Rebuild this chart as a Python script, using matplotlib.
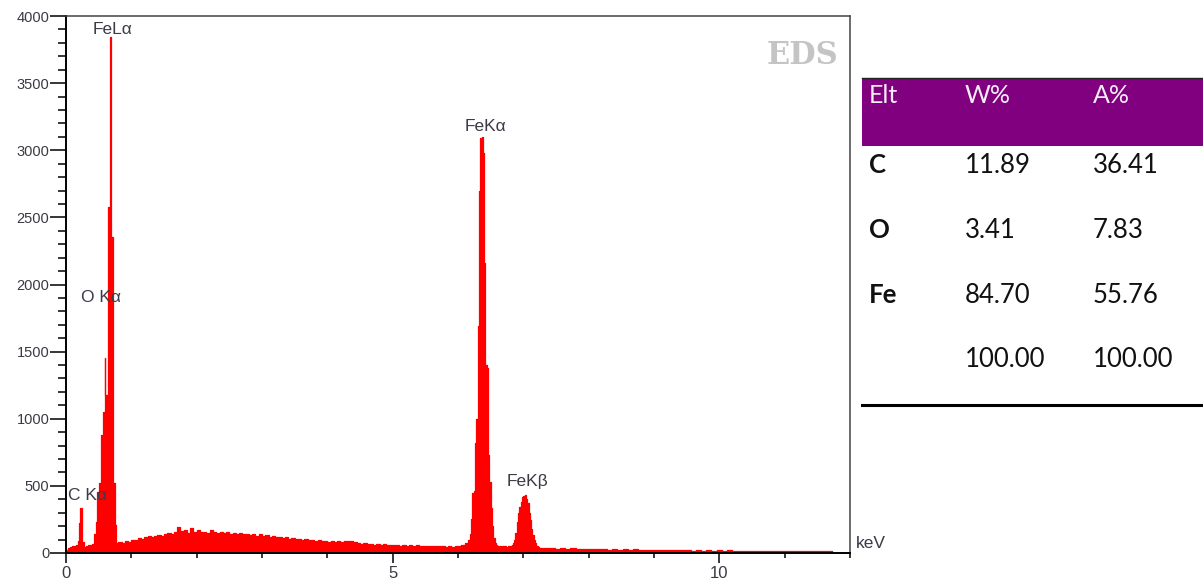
import matplotlib.pyplot as plt
import matplotlib.patches as mpatches
import matplotlib.lines as mlines
import numpy as np

# ---- spectrum data (keV, counts) ----
# low-energy region: C K, O K and Fe L lines (bin start energies)
low_kev = [0.00, 0.03, 0.06, 0.09, 0.12, 0.15, 0.18, 0.20, 0.22, 0.25, 0.28,
           0.31, 0.34, 0.37, 0.40, 0.43, 0.46, 0.48, 0.50, 0.53, 0.57, 0.59,
           0.60, 0.65, 0.67, 0.685, 0.72, 0.75, 0.77]
low_counts = [25, 35, 42, 50, 55, 62, 90, 220, 335, 80, 48,
              52, 58, 62, 70, 140, 230, 455, 520, 880, 1050, 1450,
              1180, 2580, 3840, 2355, 520, 210, 75]

# bremsstrahlung background between Fe L and Fe K (0.05 keV channels from 0.80)
cont_start = 0.80
cont_step = 0.05
cont_counts = [80, 72, 90, 85, 100, 95, 110, 105, 120, 125, 118, 130, 135, 128,
               140, 150, 145, 160, 195, 165, 170, 150, 185, 160, 175, 155, 160,
               150, 170, 155, 150, 160, 148, 155, 145, 150, 140, 148, 138, 145,
               135, 142, 130, 138, 128, 132, 120, 126, 118, 122, 112, 118, 108,
               112, 102, 108, 98, 104, 95, 100, 90, 96, 88, 92, 85, 88, 80, 86,
               82, 90, 86, 92, 80, 76, 68, 72, 66, 70, 62, 66, 60, 64, 58, 62,
               56, 60, 55, 58, 54, 57, 52, 56, 52, 55, 50, 54, 50, 53, 49, 52,
               48, 51, 48, 52, 55, 60, 75]

# Fe K alpha / K beta (0.02 keV channels from 6.16)
fek_start = 6.16
fek_step = 0.02
fek_counts = [100, 140, 250, 450, 460, 820, 1000, 1690, 2700, 3090, 3100, 2980,
              2160, 1400, 1380, 730, 530, 335, 200, 110, 75, 60, 55, 50, 52, 48,
              50, 45, 50, 47, 52, 50, 55, 60, 75, 100, 150, 230, 300, 345, 380,
              420, 425, 430, 400, 370, 300, 245, 180, 135, 100, 75, 55, 45]

# high-energy tail (0.08 keV channels from 7.24)
tail_start = 7.24
tail_step = 0.08
tail_counts = [40, 36, 38, 33, 36, 30, 34, 29, 32, 28, 31, 27, 30, 26, 29, 25,
               28, 24, 27, 23, 26, 22, 25, 21, 24, 20, 23, 19, 22, 18, 21, 18,
               20, 17, 20, 16, 19, 16, 18, 15, 18, 15, 17, 14, 17, 14, 16, 13,
               16, 13, 15, 12, 15, 12, 14, 12]

# peak labels
peak_names = ['FeL\u03b1', 'O K\u03b1', 'C K\u03b1', 'FeK\u03b1', 'FeK\u03b2']
peak_x = [0.71, 0.54, 0.33, 6.42, 7.07]
peak_y = [3900, 1905, 425, 3180, 535]

# quantification table
headers = ['Elt', 'W%', 'A%']
elements = ['C', 'O', 'Fe', '']
weight_pct = ['11.89', '3.41', '84.70', '100.00']
atomic_pct = ['36.41', '7.83', '55.76', '100.00']

# ---- assemble channels ----
cont_kev = cont_start + cont_step * np.arange(len(cont_counts))
fek_kev = fek_start + fek_step * np.arange(len(fek_counts))
tail_kev = tail_start + tail_step * np.arange(len(tail_counts))
kev = np.concatenate([low_kev, cont_kev, fek_kev, tail_kev])
counts = np.concatenate([low_counts, cont_counts, fek_counts, tail_counts])
edges = np.append(kev, tail_kev[-1] + tail_step)
counts_post = np.append(counts, counts[-1])

W, H = 1203, 583
fig = plt.figure(figsize=(W / 100, H / 100), dpi=100)
ax = fig.add_axes([66 / W, 1 - 553 / H, (850 - 66) / W, (553 - 16) / H])

ax.fill_between(edges, counts_post, step='post', color='#ff0000',
                linewidth=0, antialiased=False)
ax.step(edges, counts_post, where='post', color='#ff0000', lw=0.9)

ax.set_xlim(0, 12)
ax.set_ylim(0, 4000)

tick_col = '#3a3a44'
ax.set_yticks(np.arange(0, 4001, 500))
ax.set_yticks(np.arange(0, 4001, 100), minor=True)
ax.set_xticks([0, 5, 10])
ax.set_xticks(np.arange(0, 13, 1), minor=True)
ax.tick_params(axis='y', which='major', direction='out', length=11.5, width=1.1,
               pad=0.5, labelsize=10.5, labelcolor=tick_col)
ax.tick_params(axis='y', which='minor', direction='out', length=5.8, width=1.1)
ax.tick_params(axis='x', which='major', direction='out', length=7, width=1.1,
               pad=2, labelsize=12, labelcolor=tick_col)
ax.tick_params(axis='x', which='minor', direction='out', length=3.6, width=1.1)
for lab in ax.get_xticklabels() + ax.get_yticklabels():
    lab.set_fontfamily('Liberation Sans')

for side in ['left', 'bottom']:
    ax.spines[side].set_linewidth(1.4)
    ax.spines[side].set_color('black')
for side in ['top', 'right']:
    ax.spines[side].set_linewidth(1.1)
    ax.spines[side].set_color('#444444')

for name, x, y in zip(peak_names, peak_x, peak_y):
    ax.text(x, y, name, ha='center', va='center', fontsize=12.5,
            family='Liberation Sans', color='#3a3a48')

ax.text(0.985, 0.955, 'EDS', transform=ax.transAxes, ha='right', va='top',
        fontsize=22, fontweight='bold', family='DejaVu Serif', color='#c4c4c4')

fig.text(856 / W, 1 - 543 / H, 'keV', ha='left', va='center', fontsize=12.5,
         family='Liberation Sans', color='#3a3a48')

# ---- table ----
def fx(px):
    return px / W


def fy(py):
    return 1 - py / H


fig.add_artist(mpatches.Rectangle((fx(862), fy(146)), fx(1203) - fx(862),
                                  fy(78) - fy(146), transform=fig.transFigure,
                                  facecolor='#800080', edgecolor='none'))
fig.add_artist(mlines.Line2D([fx(862), fx(1203)], [fy(78), fy(78)],
                             transform=fig.transFigure, color='#222222', lw=1))
fig.add_artist(mlines.Line2D([fx(862), fx(1203)], [fy(405), fy(405)],
                             transform=fig.transFigure, color='black', lw=2.2))

col_x = [869, 965, 1093]
for h, x in zip(headers, col_x):
    fig.text(fx(x), fy(103), h, ha='left', va='baseline', fontsize=18,
             family='Lato', color='#f6ecf6')

row_base = [173, 238, 303, 367]
for el, w, a, yb in zip(elements, weight_pct, atomic_pct, row_base):
    fig.text(fx(col_x[0]), fy(yb), el, ha='left', va='baseline', fontsize=18.5,
             family='Lato', fontweight='bold', color='#111111')
    fig.text(fx(col_x[1]), fy(yb), w, ha='left', va='baseline', fontsize=18.5,
             family='Lato', color='#111111')
    fig.text(fx(col_x[2]), fy(yb), a, ha='left', va='baseline', fontsize=18.5,
             family='Lato', color='#111111')

fig.savefig('out.png', dpi=100)
